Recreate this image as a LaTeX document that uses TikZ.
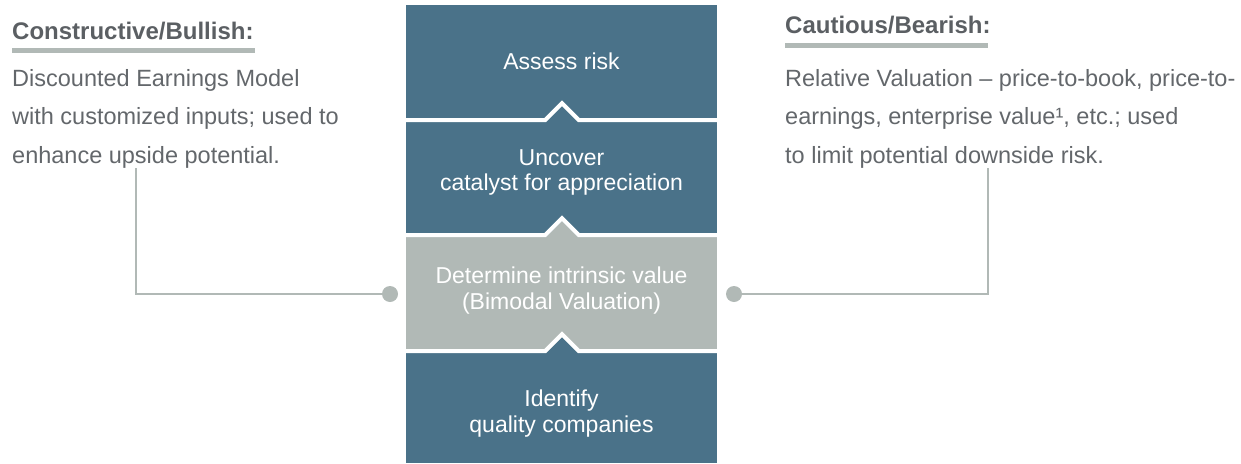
\documentclass[tikz,border=0pt]{standalone}
\usepackage{fontspec}
\setmainfont{Liberation Sans}
\definecolor{blockblue}{HTML}{4A7289}
\definecolor{blockgrey}{HTML}{B1B9B6}
\definecolor{bodytext}{HTML}{63676B}
\definecolor{headtext}{HTML}{5B5F63}
\begin{document}
\begin{tikzpicture}[x=1pt,y=-1pt,
  blocktext/.style={text=white, font=\fontsize{23}{25.5}\selectfont, align=center, inner sep=0pt, anchor=base},
  bodypara/.style={text=bodytext, font=\fontsize{23.5}{38.5}\selectfont, align=left, inner sep=0pt, anchor=base west},
  heading/.style={text=headtext, font=\bfseries\fontsize{24}{28}\selectfont, inner sep=0pt, anchor=base west},
  underbar/.style={blockgrey, line width=5pt},
  sepline/.style={white, line width=4pt, line join=miter, miter limit=10},
  dot/.style={circle, fill=blockgrey, minimum size=16pt, inner sep=0pt},
  link/.style={blockgrey, line width=1.6pt}]
\path[use as bounding box] (0,0) rectangle (1241,463);
% block backgrounds
\fill[blockblue] (406,5) rectangle (717,122);
\fill[blockblue] (406,122) rectangle (717,237);
\fill[blockgrey] (406,237) rectangle (717,353);
\fill[blockblue] (406,353) rectangle (717,463);
% arrow tips of the lower blocks
\fill[blockblue] (546,122) -- (562,106) -- (578,122) -- cycle;
\fill[blockgrey] (546,237) -- (562,221) -- (578,237) -- cycle;
\fill[blockblue] (546,353) -- (562,337) -- (578,353) -- cycle;
% white separators
\draw[sepline] (406,120) -- (545.2,120) -- (562,103.2) -- (578.8,120) -- (717,120);
\draw[sepline] (406,235) -- (545.2,235) -- (562,218.2) -- (578.8,235) -- (717,235);
\draw[sepline] (406,351) -- (545.2,351) -- (562,334.2) -- (578.8,351) -- (717,351);
% block texts (base anchor = last line)
\node[blocktext] (t1) at (561.5,69) {Assess risk};
\node[blocktext] (t2) at (561.5,190.5) {Uncover\\catalyst for appreciation};
\node[blocktext] (t3) at (561.5,309) {Determine intrinsic value\\(Bimodal Valuation)};
\node[blocktext] (t4) at (561.5,432) {Identify\\quality companies};
% left side
\node[heading] (hl) at (12,39.5) {Constructive/Bullish:};
\draw[underbar] (12,50.5) -- (255,50.5);
\node[bodypara] (pl) at (12,163) {Discounted Earnings Model\\with customized inputs; used to\\enhance upside potential.};
% right side
\node[heading] (hr) at (785,33) {Cautious/Bearish:};
\draw[underbar] (785,45.5) -- (988,45.5);
\node[bodypara] (pr) at (785,163) {Relative Valuation – price-to-book, price-to-\\earnings, enterprise value¹, etc.; used\\to limit potential downside risk.};
% connectors
\node[dot] (dl) at (390,294) {};
\node[dot] (dr) at (734,294) {};
\coordinate (lc) at (136,168);
\coordinate (rc) at (988,168);
\draw[link] (dl) -| (lc);
\draw[link] (dr) -| (rc);
\end{tikzpicture}
\end{document}
